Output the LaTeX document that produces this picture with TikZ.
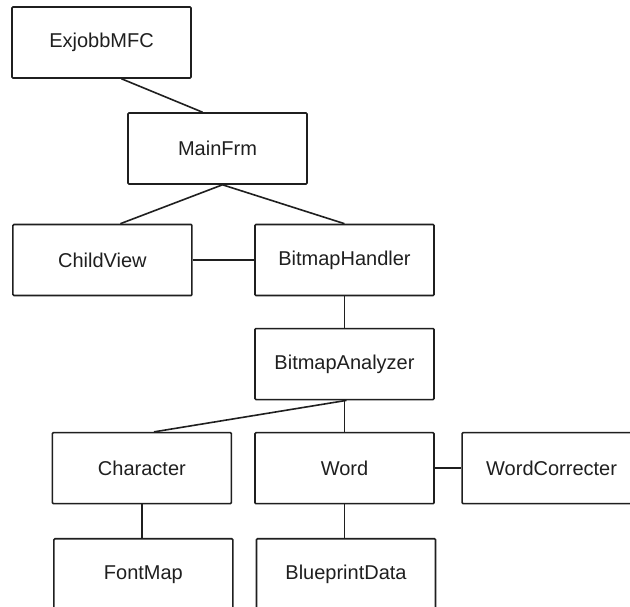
\documentclass[tikz,border=0pt]{standalone}
\usepackage{fontspec}
\setmainfont{Liberation Sans}
\usepackage{tikz}
\usetikzlibrary{calc, positioning}
\usepackage{xcolor}
\definecolor{LineBlack}{gray}{0.12}
\tikzset{%
  block/.style={%
    rectangle,%
    minimum width=179pt,%
    minimum height=71pt,%
    inner sep=0pt,%
    draw=LineBlack,%
    line width=1.6pt,%
    rounded corners=1pt,%
    text=LineBlack,%
    font={\fontsize{20}{24}\selectfont},%
    align=center%
  },
  link/.style={%
    draw=LineBlack,%
    line width=1.6pt,%
    line join=round%
  },
}

\begin{document}
\begin{tikzpicture}[x=1pt, y=1pt]
    \useasboundingbox [fill=white] (0,0) rectangle (630,607);

    \node [block] (ExjobbMFC) at (101.5,564.5) {ExjobbMFC};
    \node [block] (MainFrm) at (217.5,458.5) {MainFrm};
    \node [block] (BitmapHandler) at (344.5,347) {BitmapHandler};
    \node [block, left=61.5pt of BitmapHandler] (ChildView) {ChildView};
    \node [block, below=31.5pt of BitmapHandler] (BitmapAnalyzer) {BitmapAnalyzer};
    \node [block, below=31.5pt of BitmapAnalyzer] (Word) {Word};
    \node [block, left=22pt of Word] (Character) {Character};
    \node [block, right=26.5pt of Word] (WordCorrecter) {WordCorrecter};
    \node [block, below=33.5pt of Word, xshift=1.5pt] (BlueprintData) {BlueprintData};
    \node [block, below=33.5pt of Character, xshift=1.5pt] (FontMap) {FontMap};

    \draw [link]
      ($(ExjobbMFC.south)+(20,0)$) -- ($(MainFrm.north)+(-15,0)$);
    \draw [link]
      ($(MainFrm.south)+(5,0)$) -- ($(ChildView.north)+(18,0)$);
    \draw [link]
      ($(MainFrm.south)+(5,0)$) -- (BitmapHandler.north);
    \draw [link]
      (ChildView.east) -- (BitmapHandler.west);
    \draw [link]
      (BitmapHandler.south) -- (BitmapAnalyzer.north);
    \draw [link]
      ($(BitmapAnalyzer.south)+(2,0)$) -- ($(Character.north)+(12,0)$);
    \draw [link]
      (BitmapAnalyzer.south) -- (Word.north);
    \draw [link]
      (Word.east) -- (WordCorrecter.west);
    \draw [link]
      (Character.south) -- (Character.south |- FontMap.north);
    \draw [link]
      (Word.south) -- (Word.south |- BlueprintData.north);
  \end{tikzpicture}
\end{document}
